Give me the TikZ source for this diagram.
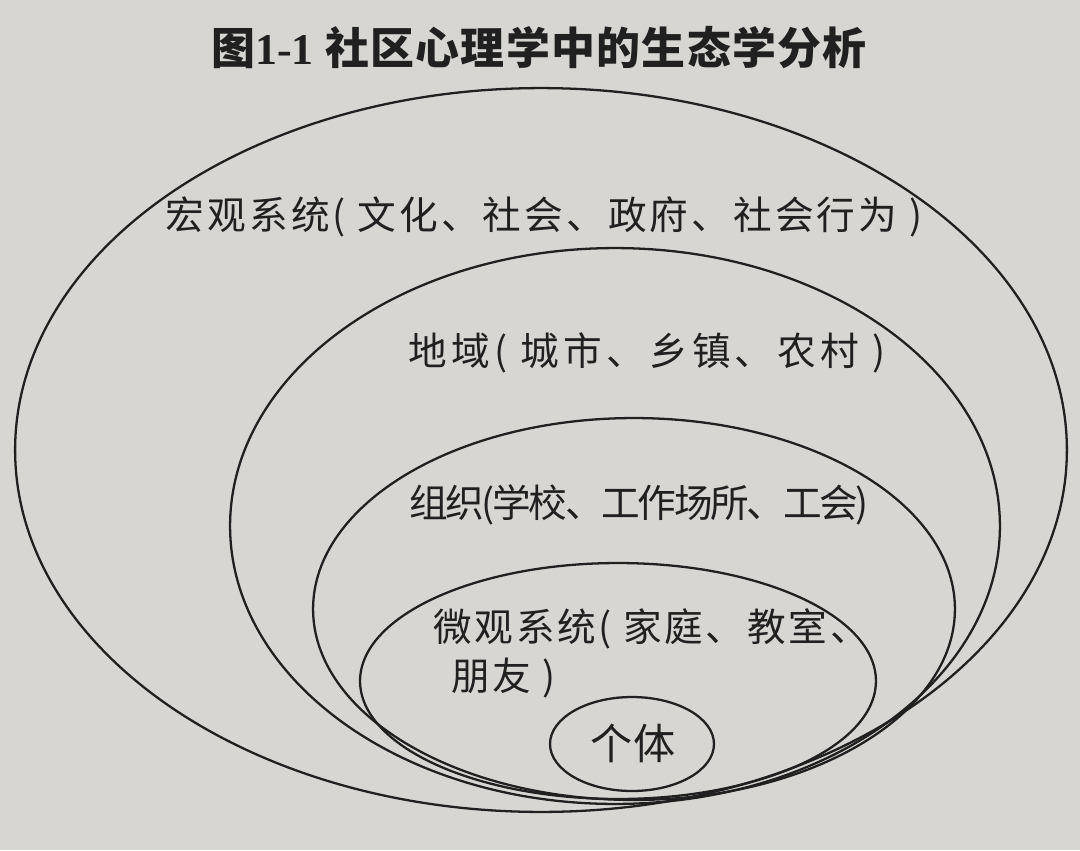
\documentclass[tikz,border=0pt]{standalone}
\usepackage{fontspec}
\setmainfont{Noto Sans CJK SC}
\newfontfamily\numfont{Liberation Serif}
\usetikzlibrary{shapes.geometric}
\definecolor{paper}{RGB}{216,214,211}
\definecolor{ink}{RGB}{32,32,32}
\newcommand{\ringfont}{\fontsize{22}{28}\selectfont}
\tikzstyle{ring}=[ellipse,draw=ink,line width=1.3pt,inner sep=0pt]
\tikzstyle{ringtext}=[font=\ringfont,text=ink,inner sep=0pt]

\begin{document}
\begin{tikzpicture}[x=0.02cm,y=-0.02cm]
    \fill[paper] (0,0) rectangle (1080,850);
    \useasboundingbox (0,0) rectangle (1080,850);

    \node[font=\fontsize{25}{28}\selectfont\bfseries\addfontfeature{LetterSpace=3},text=ink] (title) at (539,48) {图{\numfont\bfseries 1-1} 社区心理学中的生态学分析};

    % nested systems, outermost first
    \foreach \pos/ \name/ \wide/ \high in {{(541,450)/macro/21.04/14.48}, {(615,526)/region/15.4/11.12}, {(634,609)/organ/12.84/7.64}, {(618,681)/micro/10.32/4.72}, {(632,744)/person/3.28/1.88}}
        \node[ring,minimum width=\wide cm,minimum height=\high cm] (\name) at \pos {};

    % labels of the systems
    \node[ringtext,font=\ringfont\addfontfeature{LetterSpace=8}] (macrotext) at (544,217) {宏观系统( 文化、社会、政府、社会行为 )};
    \node[ringtext,font=\ringfont\addfontfeature{LetterSpace=11}] (regiontext) at (647,353) {地域( 城市、乡镇、农村 )};
    \node[ringtext,font=\ringfont\addfontfeature{LetterSpace=-6}] (organtext) at (639,505) {组织(学校、工作场所、工会)};
    \node[ringtext,font=\ringfont\addfontfeature{LetterSpace=7},anchor=west,align=left] (microtext) at (433,653) {微观系统( 家庭、教室、\\\hspace*{0.36cm}朋友 )};
    \node[ringtext,font=\fontsize{24}{28}\selectfont] (persontext) at (633,743) {个体};

\end{tikzpicture}
\end{document}
